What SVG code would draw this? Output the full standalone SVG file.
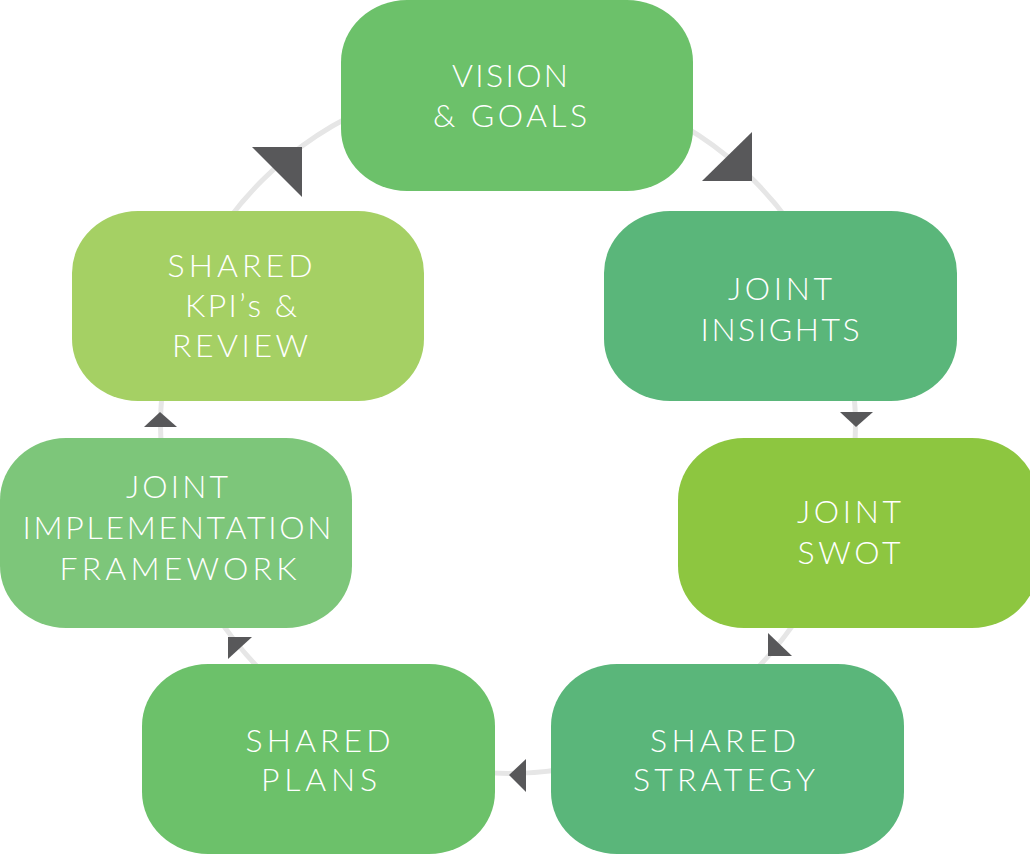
<svg xmlns="http://www.w3.org/2000/svg" width="1030" height="856" viewBox="0 0 1030 856">
<style>
.box{stroke:none}
.t{font-family:"Lato","Open Sans","Liberation Sans",sans-serif;font-weight:300;font-size:32px;fill:#ffffff;text-anchor:middle}
.ah{fill:#58585a}
</style>
<rect width="1030" height="856" fill="#ffffff"/>
<g id="connectors">
<circle cx="508" cy="426" r="347.5" fill="none" stroke="#e6e6e6" stroke-width="5"/>
<polygon class="ah" points="252,147 302,147 302,197"/>
<polygon class="ah" points="702,181 752,181 752,132"/>
<polygon class="ah" points="840,412 873,412 856,427"/>
<polygon class="ah" points="768,633 768,656 792,656"/>
<polygon class="ah" points="509,775 526,759 526,792"/>
<polygon class="ah" points="228,637 252,637 228,659"/>
<polygon class="ah" points="144,427 177,427 160,412"/>
</g>
<g id="vision">
<rect class="box" x="341" y="0" width="352" height="191" rx="66" ry="62" fill="#6cc16a"/>
<text class="t" x="510" y="87" textLength="116" lengthAdjust="spacing">VISION</text>
<text class="t" x="510" y="127" textLength="154" lengthAdjust="spacing">&amp; GOALS</text>
</g>
<g id="insights">
<rect class="box" x="604" y="211" width="353" height="190" rx="66" ry="62" fill="#5ab67a"/>
<text class="t" x="780" y="300" textLength="104" lengthAdjust="spacing">JOINT</text>
<text class="t" x="780" y="341" textLength="159" lengthAdjust="spacing">INSIGHTS</text>
</g>
<g id="swot">
<rect class="box" x="678" y="438" width="360" height="190" rx="66" ry="62" fill="#8dc640"/>
<text class="t" x="849" y="523" textLength="104" lengthAdjust="spacing">JOINT</text>
<text class="t" x="849" y="564" textLength="103" lengthAdjust="spacing">SWOT</text>
</g>
<g id="strategy">
<rect class="box" x="551" y="664" width="353" height="190" rx="66" ry="62" fill="#5ab67a"/>
<text class="t" x="723" y="752" textLength="146" lengthAdjust="spacing">SHARED</text>
<text class="t" x="724" y="791" textLength="182" lengthAdjust="spacing">STRATEGY</text>
</g>
<g id="plans">
<rect class="box" x="142" y="664" width="353" height="190" rx="66" ry="62" fill="#6cc16a"/>
<text class="t" x="318" y="752" textLength="145" lengthAdjust="spacing">SHARED</text>
<text class="t" x="319" y="791" textLength="116" lengthAdjust="spacing">PLANS</text>
</g>
<g id="framework">
<rect class="box" x="0" y="438" width="352" height="190" rx="66" ry="62" fill="#7dc67a"/>
<text class="t" x="177" y="498" textLength="102" lengthAdjust="spacing">JOINT</text>
<text class="t" x="177" y="539" textLength="309" lengthAdjust="spacing">IMPLEMENTATION</text>
<text class="t" x="178" y="580" textLength="237" lengthAdjust="spacing">FRAMEWORK</text>
</g>
<g id="kpi">
<rect class="box" x="72" y="211" width="352" height="190" rx="66" ry="62" fill="#a5d064"/>
<text class="t" x="240" y="277" textLength="145" lengthAdjust="spacing">SHARED</text>
<text class="t" x="241" y="317" textLength="112" lengthAdjust="spacing">KPI’s &amp;</text>
<text class="t" x="240" y="357" textLength="136" lengthAdjust="spacing">REVIEW</text>
</g>
</svg>
